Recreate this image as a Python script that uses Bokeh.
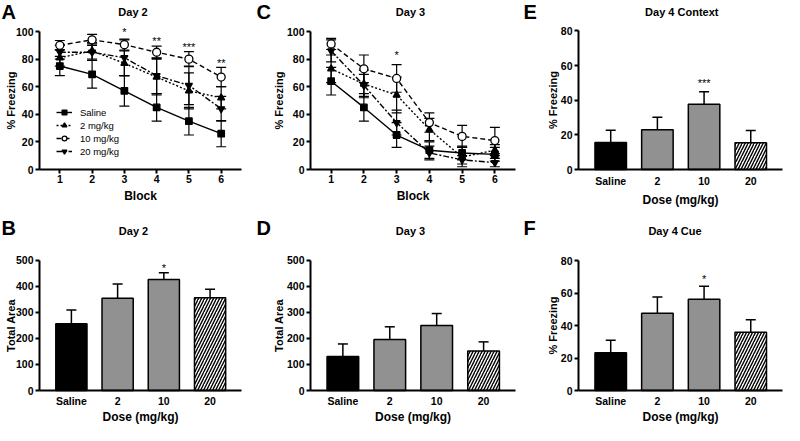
from bokeh.plotting import figure
from bokeh.models import (Range1d, FixedTicker, Whisker, TeeHead, ColumnDataSource,
                          Label, Legend, LegendItem, CanvasTexture)
from bokeh.layouts import row, column
from bokeh.embed import file_html
from bokeh.resources import INLINE
from bokeh.core.properties import value

# ---------------- data ----------------
blocks = [1, 2, 3, 4, 5, 6]
group_names = ["Saline", "2 mg/kg", "10 mg/kg", "20 mg/kg"]
dose_labels = ["Saline", "2", "10", "20"]

# Day 2 freezing by block (mean, SEM)
day2_saline = [75, 69, 57, 45, 35, 26]
day2_saline_sem = [7, 10, 11, 10, 10, 9.5]
day2_2mg = [81, 86, 77, 67, 57, 52]
day2_2mg_sem = [6, 6, 9, 13, 13, 8]
day2_10mg = [90, 94, 90.5, 85, 80, 67]
day2_10mg_sem = [3.5, 4, 4, 4.5, 5.5, 7]
day2_20mg = [85, 85, 81, 68, 61, 44]
day2_20mg_sem = [5, 6, 13, 13, 14, 9]
day2_sig_x = [3, 4, 5, 6]
day2_sig_text = ["*", "**", "***", "**"]
day2_sig_y = [100, 93, 89, 77]

# Day 3 freezing by block (mean, SEM)
day3_saline = [64, 45, 25, 14, 12, 11]
day3_saline_sem = [10, 10, 9, 6, 5, 5]
day3_2mg = [73, 62, 54, 29, 9, 14]
day3_2mg_sem = [10, 10, 13, 8, 7, 4]
day3_10mg = [91, 73, 66, 34, 24, 21]
day3_10mg_sem = [4, 10, 10, 7, 8, 9.5]
day3_20mg = [86, 61, 34, 12, 7, 5]
day3_20mg_sem = [8, 8, 9, 5, 3, 3]
day3_sig_x = [3]
day3_sig_text = ["*"]
day3_sig_y = [83]

# Total area (Day 2, Day 3)
day2_area = [257, 355, 427, 357]
day2_area_sem = [53, 55, 26, 32]
day2_area_sig_x = [2]
day2_area_sig_text = ["*"]
day2_area_sig_y = [470]

day3_area = [131, 196, 250, 152]
day3_area_sem = [48, 49, 46, 35]

# Day 4 context / cue freezing
day4_context = [15.6, 22.9, 37.7, 15.4]
day4_context_sem = [7, 7.3, 7.1, 7.1]
day4_context_sig_x = [2]
day4_context_sig_text = ["***"]
day4_context_sig_y = [50]

day4_cue = [23.3, 47.5, 56.2, 35.9]
day4_cue_sem = [7.7, 10.1, 7.9, 7.7]
day4_cue_sig_x = [2]
day4_cue_sig_text = ["*"]
day4_cue_sig_y = [68.5]

# ---------------- styling ----------------
FONT = "Liberation Sans"
line_styles = {
    "Saline":   dict(dash="solid",   marker="square",            fill="black", size=6.5),
    "2 mg/kg":  dict(dash="2 2",     marker="triangle",          fill="black", size=7),
    "10 mg/kg": dict(dash="5 3",     marker="circle",            fill="white", size=8),
    "20 mg/kg": dict(dash="6 2 2 2", marker="inverted_triangle", fill="black", size=7),
}

TOP_H, BOT_H = 216, 209
TOP_B, BOT_B = 47, 35
COLS = [  # canvas width, axis x (px from left), px right of axis end, y-label standoff
    (253, 39, 12, -4),
    (267, 57, 5, -1),
    (264, 58, 2, -1),
]


def base_fig(col, row_h, bottom, xr, yr):
    """Whole canvas is the frame; axes are pinned with fixed_location."""
    W, L, R, ylab_so = COLS[col]
    fw = W - L - R
    fh = row_h - bottom
    a, b = xr
    sx = (b - a) / fw
    c0, c1 = yr
    sy = (c1 - c0) / fh
    p = figure(width=W, height=row_h, min_border=0,
               x_range=Range1d(a - L * sx, b + R * sx),
               y_range=Range1d(c0 - bottom * sy, c1),
               output_backend="svg", toolbar_location=None)
    p.xgrid.visible = False
    p.ygrid.visible = False
    p.outline_line_color = None
    p.xaxis.fixed_location = c0
    p.yaxis.fixed_location = a
    p.xaxis.bounds = (a, b)
    for ax in (p.xaxis[0], p.yaxis[0]):
        ax.axis_line_width = 2
        ax.major_tick_line_width = 2
        ax.minor_tick_line_color = None
        ax.major_tick_in = 0
        ax.major_tick_out = 4
        ax.major_label_text_font = FONT
        ax.major_label_text_font_style = "bold"
        ax.major_label_text_font_size = "10.5px"
        ax.major_label_text_color = "black"
        ax.axis_label_text_font = FONT
        ax.axis_label_text_font_size = "12px"
        ax.axis_label_text_font_style = "bold"
        ax.axis_label_text_color = "black"
    p.yaxis[0].axis_label_text_font_size = "11px"
    p.yaxis[0].major_label_standoff = 2
    p.yaxis[0].axis_label_standoff = ylab_so
    p._geom = (xr, yr, fw, fh)
    return p


def to_data(p, px_left, px_top):
    xr, yr, fw, fh = p._geom
    x = xr[0] + px_left / fw * (xr[1] - xr[0])
    y = yr[1] - px_top / fh * (yr[1] - yr[0])
    return x, y


def add_letter_title(p, letter, letter_px, title, title_px, letter_top, title_top):
    x, y = to_data(p, letter_px, letter_top)
    p.add_layout(Label(x=x, y=y, text=letter, text_font=FONT, text_font_size="20px",
                       text_font_style="bold", text_align="left", text_baseline="top",
                       text_color="black"))
    x, y = to_data(p, title_px, title_top)
    p.add_layout(Label(x=x, y=y, text=title, text_font=FONT, text_font_size="11px",
                       text_font_style="bold", text_align="center", text_baseline="middle",
                       text_color="black"))


def sig_text(p, xs, ys, texts):
    p.text(x=xs, y=ys, text=texts, text_align="center", text_baseline="middle",
           text_font=value(FONT), text_font_size="11px", text_color="black")


def line_panel(col, series, sig, letter, letter_px, title, title_px, legend=False):
    p = base_fig(col, TOP_H, TOP_B, (0.37, 6.63), (0, 122.5))
    p.yaxis.bounds = (0, 100)
    p.yaxis.ticker = FixedTicker(ticks=[0, 20, 40, 60, 80, 100])
    p.xaxis.ticker = FixedTicker(ticks=blocks)
    p.xaxis.major_label_standoff = 1
    p.xaxis.axis_label_standoff = 3
    p.xaxis.axis_label = "Block"
    p.yaxis.axis_label = "% Freezing"
    items = []
    rends = {}
    for name, (vals, sem) in zip(group_names, series):
        src = ColumnDataSource(dict(x=blocks, y=vals,
                                    lo=[v - s for v, s in zip(vals, sem)],
                                    hi=[v + s for v, s in zip(vals, sem)]))
        p.add_layout(Whisker(source=src, base="x", lower="lo", upper="hi", dimension="height",
                             line_color="black", line_width=1.2,
                             upper_head=TeeHead(size=10, line_width=1.2, line_color="black"),
                             lower_head=TeeHead(size=10, line_width=1.2, line_color="black")))
        st = line_styles[name]
        lr = p.line("x", "y", source=src, line_color="black", line_width=1.4, line_dash=st["dash"])
        rends[name] = [lr, src]
    for name in group_names:
        lr, src = rends[name]
        st = line_styles[name]
        mr = p.scatter("x", "y", source=src, marker=st["marker"], size=st["size"],
                       fill_color=st["fill"], line_color="black", line_width=1.3)
        items.append(LegendItem(label=name, renderers=[lr, mr]))
    sig_text(p, *sig)
    if legend:
        W, L, R, _ = COLS[col]
        lg = Legend(items=items, location=(L + 17, TOP_H - 157), border_line_color=None,
                    background_fill_alpha=0, label_text_font=FONT,
                    label_text_color="black",
                    label_text_font_size="9.5px", glyph_width=16, glyph_height=12,
                    label_height=12, spacing=1, padding=0, margin=0, label_standoff=8)
        p.add_layout(lg)
    add_letter_title(p, letter, letter_px, title, title_px, 0, 11)
    return p


fine = CanvasTexture(code="ctx.fillStyle = color; var h = scale/2;"
                          "ctx.fillRect(0, 0, h, h); ctx.fillRect(h, h, h, h);")
coarse = CanvasTexture(code="ctx.fillStyle = color; var h = scale/2;"
                            "ctx.fillRect(0, 0, h, h); ctx.fillRect(h, h, h, h);")


def bar_panel(col, row_h, bottom, ytop, ybound, yticks, ylabel, vals, sem, sig,
              letter, letter_px, title, title_px, letter_top, title_top,
              lab_standoff, axlab_standoff):
    p = base_fig(col, row_h, bottom, (-0.69, 3.68), (0, ytop))
    p.yaxis.bounds = (0, ybound)
    p.yaxis.ticker = FixedTicker(ticks=yticks)
    p.xaxis.ticker = FixedTicker(ticks=[0, 1, 2, 3])
    p.xaxis.major_label_overrides = {i: d for i, d in enumerate(dose_labels)}
    p.xaxis.major_tick_out = 0
    p.xaxis.major_label_standoff = lab_standoff
    p.xaxis.axis_label_standoff = axlab_standoff
    p.xaxis.axis_label = "Dose (mg/kg)"
    p.yaxis.axis_label = ylabel
    xs = [0, 1, 2, 3]
    src = ColumnDataSource(dict(
        x=xs, top=vals, hi=[v + s for v, s in zip(vals, sem)],
        fill=["black", "white", "white", "white"],
        hatch=[" ", "fine", "coarse", "/"],
        hcolor=["black", "#3a3a3a", "black", "black"],
        hscale=[1, 4, 6, 6],
        hweight=[1, 1, 1, 1.4],
    ))
    p.add_layout(Whisker(source=src, base="x", lower="top", upper="hi", dimension="height",
                         line_color="black", line_width=1.5, lower_head=None,
                         upper_head=TeeHead(size=10, line_width=1.5, line_color="black")))
    p.vbar(x="x", top="top", width=0.675, source=src, fill_color="fill",
           line_color="black", line_width=1.5, hatch_pattern="hatch",
           hatch_color="hcolor", hatch_scale="hscale", hatch_weight="hweight",
           hatch_extra={"fine": fine, "coarse": coarse})
    if sig is not None:
        sig_text(p, *sig)
    add_letter_title(p, letter, letter_px, title, title_px, letter_top, title_top)
    return p


pA = line_panel(0, [(day2_saline, day2_saline_sem), (day2_2mg, day2_2mg_sem),
                    (day2_10mg, day2_10mg_sem), (day2_20mg, day2_20mg_sem)],
                (day2_sig_x, day2_sig_y, day2_sig_text), "A", -38, "Day 2", 93.5, legend=True)
pC = line_panel(1, [(day3_saline, day3_saline_sem), (day3_2mg, day3_2mg_sem),
                    (day3_10mg, day3_10mg_sem), (day3_20mg, day3_20mg_sem)],
                (day3_sig_x, day3_sig_y, day3_sig_text), "C", -54, "Day 3", 100)
pE = bar_panel(2, TOP_H, TOP_B, 97.5, 80, [0, 20, 40, 60, 80], "% Freezing",
               day4_context, day4_context_sem,
               (day4_context_sig_x, day4_context_sig_y, day4_context_sig_text),
               "E", -55, "Day 4 Context", 103.3, 0, 11, 5, 3)
pB = bar_panel(0, BOT_H, BOT_B, 669.2, 500, [0, 100, 200, 300, 400, 500], "Total Area",
               day2_area, day2_area_sem,
               (day2_area_sig_x, day2_area_sig_y, day2_area_sig_text),
               "B", -38, "Day 2", 94, 0, 14.2, 4, 0)
pD = bar_panel(1, BOT_H, BOT_B, 669.2, 500, [0, 100, 200, 300, 400, 500], "Total Area",
               day3_area, day3_area_sem, None,
               "D", -54, "Day 3", 100, 0, 14.2, 4, 0)
pF = bar_panel(2, BOT_H, BOT_B, 107.1, 80, [0, 20, 40, 60, 80], "% Freezing",
               day4_cue, day4_cue_sem,
               (day4_cue_sig_x, day4_cue_sig_y, day4_cue_sig_text),
               "F", -55, "Day 4 Cue", 96.5, 0, 14.2, 4, 0)

layout = column(row(pA, pC, pE), row(pB, pD, pF))

with open("out.html", "w") as f:
    f.write(file_html(layout, INLINE))
